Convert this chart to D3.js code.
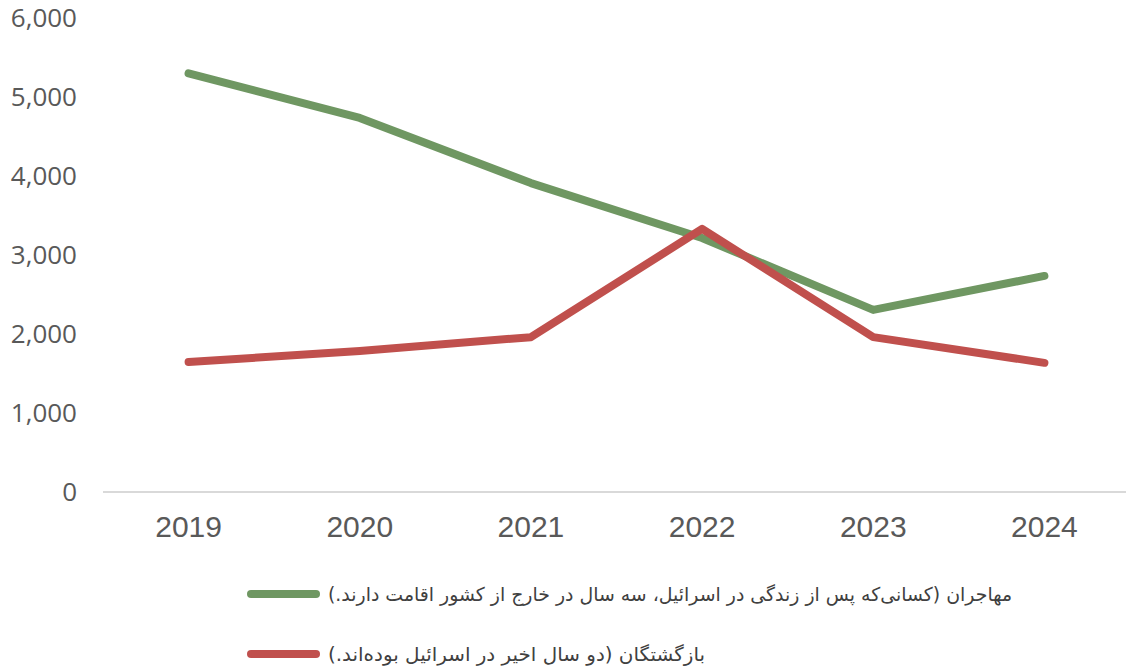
<!DOCTYPE html>
<html>
<head>
<meta charset="utf-8">
<script src="https://cdn.jsdelivr.net/npm/d3@7"></script>
<style>
  body { margin: 0; background: #fff; }
  svg { display: block; }
</style>
</head>
<body>
<svg id="chart"></svg>
<script>
// values
const years = ["2019", "2020", "2021", "2022", "2023", "2024"];
const emigrants = [5300, 4735, 3910, 3215, 2305, 2735];
const returnees = [1645, 1785, 1960, 3330, 1960, 1635];
const yTicks = [0, 1000, 2000, 3000, 4000, 5000, 6000];
const seriesNames = [
  "مهاجران (کسانی‌که پس از زندگی در اسرائیل، سه سال در خارج از کشور اقامت دارند.)",
  "بازگشتگان (دو سال اخیر در اسرائیل بوده‌اند.)"
];
const seriesColors = ["#6f9762", "#c0504d"];

const width = 1126, height = 668;

const svg = d3.select("#chart")
  .attr("width", width)
  .attr("height", height);

const x = d3.scaleBand()
  .domain(years)
  .range([103, 1130]);

const y = d3.scaleLinear()
  .domain([0, 6000])
  .range([492, 18]);

// y axis labels, no line
const yAxis = svg.append("g")
  .attr("transform", "translate(77,0)")
  .call(d3.axisLeft(y).tickValues(yTicks).tickSize(0).tickPadding(0)
    .tickFormat(d3.format(",")));
yAxis.select(".domain").remove();
yAxis.selectAll("text")
  .attr("font-family", "'Open Sans', sans-serif")
  .attr("font-size", 26)
  .attr("fill", "#595959");

// x axis baseline
svg.append("line")
  .attr("x1", 103).attr("x2", width)
  .attr("y1", y(0)).attr("y2", y(0))
  .attr("stroke", "#d9d9d9")
  .attr("stroke-width", 2);

const xAxis = svg.append("g")
  .attr("transform", "translate(0," + y(0) + ")")
  .call(d3.axisBottom(x).tickSize(0).tickPadding(24));
xAxis.select(".domain").remove();
xAxis.selectAll("text")
  .attr("font-family", "'Liberation Sans', Arial, sans-serif")
  .attr("font-size", 30)
  .attr("fill", "#595959");

const line = d3.line()
  .x((d, i) => x(years[i]) + x.bandwidth() / 2)
  .y(d => y(d));

[emigrants, returnees].forEach((vals, k) => {
  svg.append("path")
    .datum(vals)
    .attr("d", line)
    .attr("fill", "none")
    .attr("stroke", seriesColors[k])
    .attr("stroke-width", 8)
    .attr("stroke-linejoin", "round")
    .attr("stroke-linecap", "round");
});

// legend
const legendY = [594, 654];
const legendRight = [1012, 705];
seriesNames.forEach((name, k) => {
  const g = svg.append("g");
  g.append("line")
    .attr("x1", 251).attr("x2", 316)
    .attr("y1", legendY[k]).attr("y2", legendY[k])
    .attr("stroke", seriesColors[k])
    .attr("stroke-width", 8)
    .attr("stroke-linecap", "round");
  g.append("text")
    .attr("x", legendRight[k])
    .attr("y", legendY[k])
    .attr("dy", "0.35em")
    .attr("direction", "rtl")
    .attr("text-anchor", "start")
    .attr("font-family", "'DejaVu Sans', sans-serif")
    .attr("font-size", 19)
    .attr("fill", "#404040")
    .attr("textLength", legendRight[k] - 328)
    .attr("lengthAdjust", "spacingAndGlyphs")
    .text(name);
});
</script>
</body>
</html>
